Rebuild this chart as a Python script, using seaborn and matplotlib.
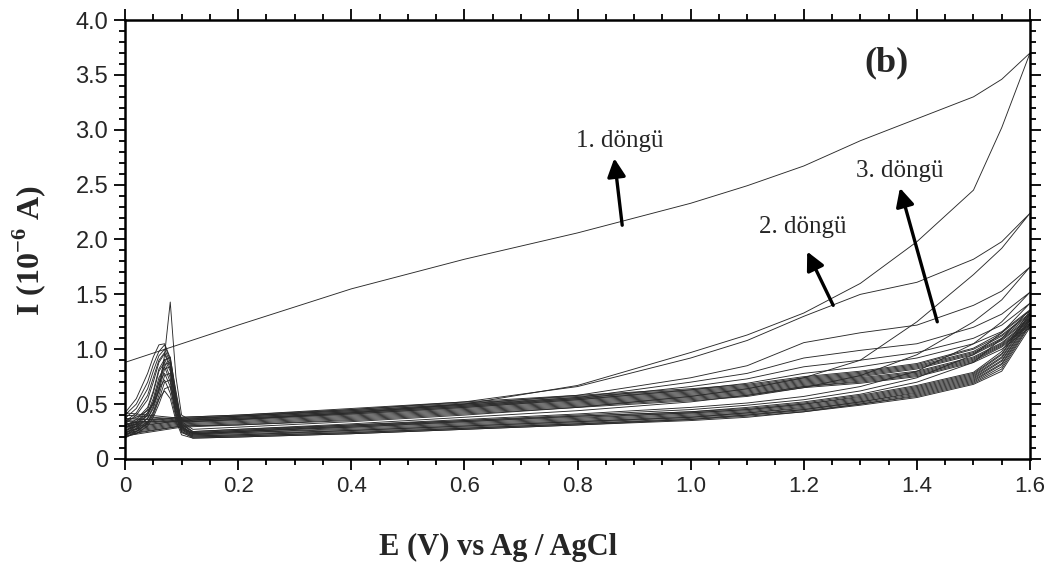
import pandas as pd
import matplotlib
matplotlib.use("Agg")
import matplotlib.pyplot as plt
import seaborn as sns

# potential grids (V): forward sweep 0 -> 1.6, reverse sweep 1.6 -> 0
E_fwd = [0, 0.1, 0.2, 0.4, 0.6, 0.8, 1.0, 1.1, 1.2, 1.3, 1.4, 1.5, 1.55, 1.6]
E_rev = [1.6, 1.55, 1.5, 1.4, 1.3, 1.2, 1.1, 1.0, 0.8, 0.6, 0.4, 0.2,
         0.12, 0.1, 0.09, 0.08, 0.07, 0.06, 0.05, 0.04, 0.02, 0]

# current (1e-6 A), one row per cycle
I_fwd = [
    [0.88, 1.05, 1.22, 1.55, 1.82, 2.06, 2.33, 2.49, 2.67, 2.90, 3.10, 3.30, 3.46, 3.70],
    [0.35, 0.38, 0.40, 0.45, 0.52, 0.66, 0.92, 1.08, 1.30, 1.50, 1.61, 1.82, 1.98, 2.24],
    [0.42, 0.37, 0.39, 0.44, 0.50, 0.58, 0.74, 0.85, 1.06, 1.15, 1.22, 1.40, 1.53, 1.75],
    [0.40, 0.36, 0.38, 0.43, 0.49, 0.56, 0.70, 0.78, 0.92, 0.99, 1.05, 1.20, 1.32, 1.52],
    [0.37, 0.35, 0.37, 0.42, 0.48, 0.55, 0.66, 0.73, 0.84, 0.90, 0.97, 1.10, 1.22, 1.42],
    [0.34, 0.34, 0.36, 0.41, 0.47, 0.54, 0.63, 0.69, 0.78, 0.84, 0.92, 1.05, 1.16, 1.36],
    [0.32, 0.38, 0.40, 0.46, 0.52, 0.58, 0.64, 0.68, 0.75, 0.80, 0.87, 1.01, 1.15, 1.35],
    [0.31, 0.37, 0.39, 0.45, 0.51, 0.57, 0.63, 0.67, 0.74, 0.79, 0.86, 1.00, 1.13, 1.33],
    [0.30, 0.36, 0.39, 0.44, 0.50, 0.56, 0.62, 0.66, 0.73, 0.78, 0.85, 0.98, 1.12, 1.32],
    [0.29, 0.35, 0.38, 0.43, 0.49, 0.55, 0.61, 0.65, 0.72, 0.77, 0.84, 0.97, 1.10, 1.31],
    [0.28, 0.35, 0.37, 0.42, 0.48, 0.54, 0.60, 0.64, 0.71, 0.76, 0.83, 0.96, 1.09, 1.29],
    [0.27, 0.34, 0.36, 0.41, 0.47, 0.53, 0.59, 0.63, 0.70, 0.75, 0.82, 0.95, 1.08, 1.28],
    [0.26, 0.33, 0.35, 0.40, 0.46, 0.52, 0.58, 0.62, 0.69, 0.74, 0.80, 0.93, 1.06, 1.27],
    [0.25, 0.32, 0.34, 0.39, 0.45, 0.51, 0.57, 0.61, 0.68, 0.73, 0.79, 0.92, 1.05, 1.26],
    [0.24, 0.31, 0.33, 0.38, 0.44, 0.50, 0.56, 0.60, 0.67, 0.72, 0.78, 0.91, 1.04, 1.24],
    [0.23, 0.30, 0.32, 0.37, 0.43, 0.49, 0.55, 0.59, 0.66, 0.71, 0.77, 0.90, 1.03, 1.23],
    [0.22, 0.30, 0.31, 0.36, 0.42, 0.48, 0.54, 0.58, 0.66, 0.70, 0.76, 0.89, 1.02, 1.22],
    [0.21, 0.29, 0.31, 0.35, 0.41, 0.47, 0.53, 0.57, 0.65, 0.69, 0.75, 0.88, 1.00, 1.20],
]
I_rev = [
    [3.70, 3.02, 2.45, 1.98, 1.60, 1.33, 1.13, 0.97, 0.67, 0.50, 0.42, 0.36, 0.34, 0.40, 0.75, 1.43, 0.95, 0.62, 0.50, 0.44, 0.38, 0.35],
    [2.24, 1.92, 1.68, 1.25, 0.90, 0.74, 0.64, 0.57, 0.47, 0.40, 0.34, 0.29, 0.27, 0.34, 0.62, 0.92, 1.05, 1.04, 0.93, 0.78, 0.55, 0.42],
    [1.75, 1.45, 1.25, 0.95, 0.76, 0.65, 0.58, 0.52, 0.44, 0.38, 0.32, 0.27, 0.25, 0.33, 0.58, 0.90, 1.04, 0.98, 0.86, 0.70, 0.50, 0.40],
    [1.52, 1.25, 1.05, 0.80, 0.66, 0.57, 0.51, 0.47, 0.41, 0.36, 0.31, 0.26, 0.24, 0.32, 0.55, 0.88, 1.00, 0.94, 0.80, 0.64, 0.46, 0.37],
    [1.42, 1.15, 0.95, 0.74, 0.62, 0.54, 0.49, 0.45, 0.40, 0.35, 0.30, 0.25, 0.23, 0.30, 0.52, 0.85, 0.97, 0.90, 0.74, 0.58, 0.42, 0.34],
    [1.36, 1.10, 0.88, 0.70, 0.59, 0.52, 0.47, 0.43, 0.39, 0.34, 0.29, 0.25, 0.23, 0.29, 0.50, 0.82, 0.96, 0.88, 0.70, 0.54, 0.40, 0.32],
    [1.35, 0.98, 0.79, 0.67, 0.58, 0.51, 0.46, 0.43, 0.39, 0.35, 0.31, 0.27, 0.25, 0.31, 0.60, 0.93, 0.90, 0.70, 0.52, 0.42, 0.34, 0.31],
    [1.33, 0.96, 0.78, 0.66, 0.57, 0.50, 0.45, 0.42, 0.38, 0.34, 0.30, 0.26, 0.24, 0.28, 0.48, 0.80, 0.91, 0.82, 0.62, 0.47, 0.36, 0.30],
    [1.32, 0.95, 0.77, 0.65, 0.56, 0.50, 0.45, 0.42, 0.37, 0.33, 0.29, 0.25, 0.23, 0.30, 0.56, 0.88, 0.86, 0.66, 0.50, 0.40, 0.32, 0.29],
    [1.31, 0.93, 0.76, 0.64, 0.55, 0.49, 0.44, 0.41, 0.36, 0.32, 0.28, 0.24, 0.23, 0.27, 0.45, 0.74, 0.88, 0.80, 0.60, 0.45, 0.34, 0.28],
    [1.29, 0.92, 0.75, 0.63, 0.54, 0.48, 0.43, 0.40, 0.35, 0.31, 0.27, 0.24, 0.22, 0.29, 0.52, 0.84, 0.82, 0.62, 0.46, 0.37, 0.30, 0.26],
    [1.28, 0.90, 0.74, 0.62, 0.53, 0.47, 0.42, 0.39, 0.34, 0.30, 0.26, 0.23, 0.22, 0.26, 0.42, 0.70, 0.84, 0.74, 0.55, 0.42, 0.32, 0.25],
    [1.27, 0.89, 0.73, 0.61, 0.52, 0.46, 0.42, 0.38, 0.34, 0.30, 0.26, 0.22, 0.21, 0.28, 0.48, 0.78, 0.76, 0.58, 0.43, 0.34, 0.27, 0.24],
    [1.26, 0.87, 0.72, 0.60, 0.52, 0.45, 0.41, 0.38, 0.33, 0.29, 0.25, 0.22, 0.21, 0.25, 0.40, 0.66, 0.78, 0.70, 0.52, 0.40, 0.30, 0.23],
    [1.24, 0.86, 0.71, 0.59, 0.51, 0.45, 0.40, 0.37, 0.32, 0.28, 0.24, 0.21, 0.20, 0.27, 0.45, 0.72, 0.70, 0.54, 0.40, 0.32, 0.25, 0.22],
    [1.23, 0.84, 0.70, 0.58, 0.50, 0.44, 0.40, 0.36, 0.32, 0.28, 0.24, 0.21, 0.20, 0.24, 0.38, 0.60, 0.72, 0.64, 0.48, 0.37, 0.28, 0.21],
    [1.22, 0.82, 0.69, 0.57, 0.50, 0.43, 0.39, 0.36, 0.31, 0.27, 0.23, 0.20, 0.19, 0.25, 0.42, 0.66, 0.64, 0.50, 0.38, 0.30, 0.23, 0.20],
    [1.20, 0.80, 0.68, 0.56, 0.49, 0.43, 0.38, 0.35, 0.31, 0.27, 0.23, 0.20, 0.19, 0.22, 0.35, 0.55, 0.62, 0.55, 0.42, 0.33, 0.25, 0.19],
]

rows = []
for n, (fw, rv) in enumerate(zip(I_fwd, I_rev), start=1):
    k = 0
    for e, i in zip(E_fwd, fw):
        rows.append((n, k, e, i)); k += 1
    for e, i in zip(E_rev, rv):
        rows.append((n, k, e, i)); k += 1
df = pd.DataFrame(rows, columns=["cycle", "step", "E", "I"])

sns.set_style("ticks")
plt.rcParams["font.family"] = ["Liberation Sans", "DejaVu Sans"]
plt.rcParams["mathtext.fontset"] = "custom"
plt.rcParams["mathtext.rm"] = "Liberation Serif:bold"
plt.rcParams["mathtext.bf"] = "Liberation Serif:bold"

fig = plt.figure(figsize=(10.53, 5.72), dpi=100)
ax = fig.add_axes([0.1187, 0.1976, 0.8595, 0.7674])

sns.lineplot(data=df, x="E", y="I", units="cycle", estimator=None, sort=False,
             color="#2a2a2a", lw=0.65, ax=ax, legend=False)

ax.set_xlim(0, 1.6)
ax.set_ylim(0, 4.0)
xt = [0, 0.2, 0.4, 0.6, 0.8, 1.0, 1.2, 1.4, 1.6]
ax.set_xticks(xt)
ax.set_xticklabels(["0", "0.2", "0.4", "0.6", "0.8", "1.0", "1.2", "1.4", "1.6"], fontsize=16)
yt = [0, 0.5, 1.0, 1.5, 2.0, 2.5, 3.0, 3.5, 4.0]
ax.set_yticks(yt)
ax.set_yticklabels(["0", "0.5", "1.0", "1.5", "2.0", "2.5", "3.0", "3.5", "4.0"], fontsize=17)
ax.set_xticks([i * 0.05 for i in range(33)], minor=True)
ax.set_yticks([i * 0.1 for i in range(41)], minor=True)
ax.tick_params(which="both", direction="out", top=True, right=True, width=1.3, color="black")
ax.tick_params(which="major", length=8, pad=4)
ax.tick_params(which="minor", length=4.5)
for s in ax.spines.values():
    s.set_linewidth(1.8)
    s.set_color("black")

ax.set_xlabel("")
ax.set_ylabel("")
serif = ["Liberation Serif", "DejaVu Serif"]
fig.text(0.473, 0.043, "E (V) vs Ag / AgCl", family=serif, fontweight="bold",
         fontsize=22, ha="center", va="center")
fig.text(0.028, 0.562, r"I (10$^{-6}$ A)", family=serif, fontweight="bold",
         fontsize=23, ha="center", va="center", rotation=90)

arrow = dict(arrowstyle="-|>,head_length=0.5,head_width=0.25", lw=2.4,
             color="black", mutation_scale=22, shrinkA=0, shrinkB=0)
ax.annotate("", xy=(0.865, 2.74), xytext=(0.879, 2.13), arrowprops=arrow)
ax.annotate("", xy=(1.206, 1.89), xytext=(1.252, 1.40), arrowprops=arrow)
ax.annotate("", xy=(1.370, 2.47), xytext=(1.436, 1.25), arrowprops=arrow)
ax.text(0.875, 2.90, "1. döngü", family=serif, fontsize=18, ha="center", va="center")
ax.text(1.199, 2.11, "2. döngü", family=serif, fontsize=18, ha="center", va="center")
ax.text(1.370, 2.62, "3. döngü", family=serif, fontsize=18, ha="center", va="center")
ax.text(1.347, 3.61, "(b)", family=serif, fontsize=26, fontweight="bold", ha="center", va="center")

fig.savefig("out.png", dpi=100)
